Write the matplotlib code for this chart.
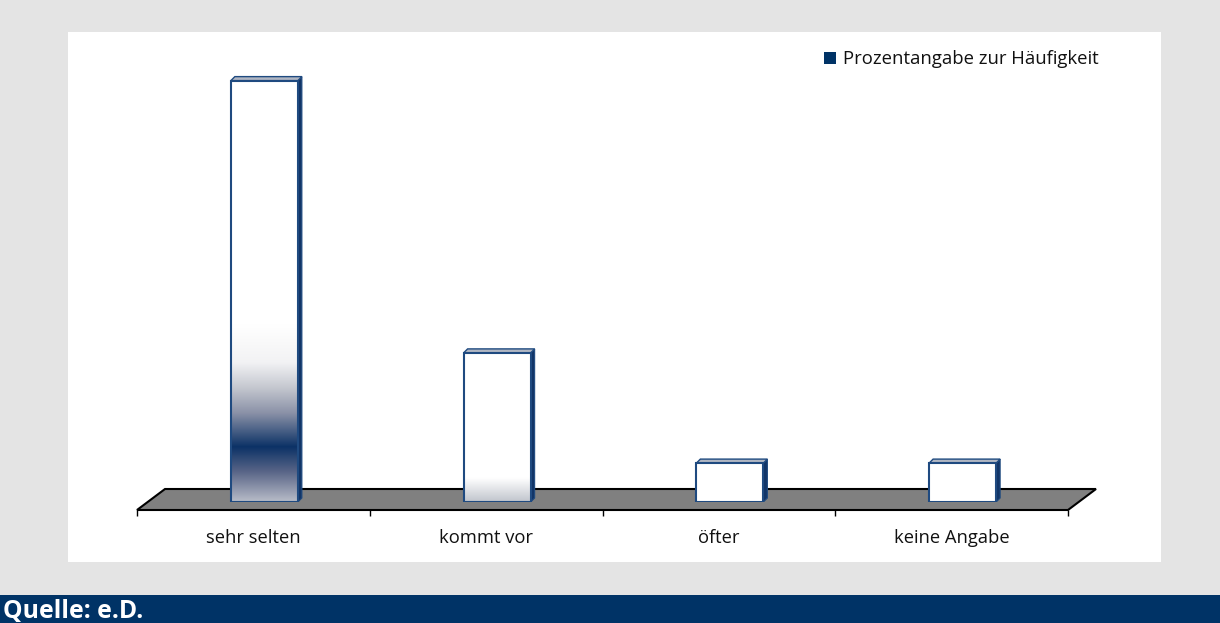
import numpy as np
import matplotlib
matplotlib.use("Agg")
import matplotlib.pyplot as plt
from matplotlib.patches import Rectangle, Polygon
from matplotlib.colors import to_rgb

plt.rcParams['font.family'] = ['Open Sans', 'DejaVu Sans']

# ---- data ----
categories = ["sehr selten", "kommt vor", "öfter", "keine Angabe"]
values = [65, 23, 6, 6]
series_name = "Prozentangabe zur Häufigkeit"
source_text = "Quelle: e.D."

# ---- styles ----
NAVY = "#003366"
EDGE = "#1f4a80"
TOP_FACE = "#b0b6c2"
SIDE_FACE = "#123567"
FLOOR = "#808080"
BG = "#e4e4e4"
# gradient stops per bar: (fraction of bar height from bottom, colour)
bar_gradients = [
    [(0.0, "#b8bcc8"), (0.07, "#5a6688"), (0.13, "#0c3266"), (0.21, "#8a91a7"),
     (0.27, "#c4c7cf"), (0.33, "#f2f2f4"), (0.42, "#ffffff"), (1.0, "#ffffff")],
    [(0.0, "#c0c4cc"), (0.16, "#ffffff"), (1.0, "#ffffff")],
    [(0.0, "#ffffff"), (1.0, "#ffffff")],
    [(0.0, "#ffffff"), (1.0, "#ffffff")],
]

W, H, DPI = 1220, 623, 100
fig = plt.figure(figsize=(W / DPI, H / DPI), dpi=DPI, facecolor=BG)

# white chart panel and footer band (behind the axes)
fig.patches.append(Rectangle((68 / W, (H - 562) / H), (1161 - 68) / W, (562 - 32) / H,
                             transform=fig.transFigure, facecolor="white",
                             edgecolor="none", zorder=-2))
fig.patches.append(Rectangle((0, 0), 1, (H - 595) / H, transform=fig.transFigure,
                             facecolor=NAVY, edgecolor="none", zorder=-2))
fig.text(3 / W, (H - 618) / H, source_text, color="white", fontweight="bold",
         fontsize=17.8, va="baseline", ha="left")

# plotting axes: value 0 sits on the floor, categories span the floor front edge
ax_left, ax_right = 137, 1068
ax_bottom, ax_top = 502, 32
YMAX = 72.5
ax = fig.add_axes([ax_left / W, (H - ax_bottom) / H,
                   (ax_right - ax_left) / W, (ax_bottom - ax_top) / H])
ax.patch.set_alpha(0)
n = len(categories)
ax.set_xlim(-0.5, n - 0.5)
ax.set_ylim(0, YMAX)

# pixel -> data conversion factors
sx = n / (ax_right - ax_left)
sy = YMAX / (ax_bottom - ax_top)

# floor (3-D base plate)
front_y, back_y = -8 * sy, 13 * sy
skew = 28 * sx
floor = Polygon([(-0.5, front_y), (n - 0.5, front_y),
                 (n - 0.5 + skew, back_y), (-0.5 + skew, back_y)],
                closed=True, facecolor=FLOOR, edgecolor="black", lw=1.5,
                clip_on=False, zorder=1)
ax.add_patch(floor)

# bars
bar_w = 0.288
shift = 11 * sx
ddx, ddy = 4 * sx, 4 * sy
x = np.arange(n) + shift
bars = ax.bar(x, values, width=bar_w, facecolor="none", edgecolor=EDGE,
              linewidth=1.5, zorder=4)
for rect, v, stops in zip(bars, values, bar_gradients):
    xl = rect.get_x()
    xr = xl + rect.get_width()
    # vertical gradient on the front face
    fr = np.linspace(0, 1, 400)
    pos = [s[0] for s in stops]
    cols = np.array([to_rgb(s[1]) for s in stops])
    img = np.stack([np.interp(fr, pos, cols[:, k]) for k in range(3)], axis=-1)
    img = img[::-1, None, :]
    im = ax.imshow(img, extent=(xl, xr, 0, v), aspect="auto", zorder=3,
                   interpolation="bilinear")
    im.set_clip_path(rect)
    # side face
    ax.add_patch(Polygon([(xr, 0), (xr + ddx, ddy), (xr + ddx, v + ddy), (xr, v)],
                         closed=True, facecolor=SIDE_FACE, edgecolor=EDGE,
                         lw=0.8, zorder=2.5))
    # top face
    ax.add_patch(Polygon([(xl, v), (xr, v), (xr + ddx, v + ddy), (xl + ddx, v + ddy)],
                         closed=True, facecolor=TOP_FACE, edgecolor=EDGE,
                         lw=1.0, zorder=2.5))
ax.set_xlim(-0.5, n - 0.5)
ax.set_ylim(0, YMAX)

# axis: boundary ticks below the floor, labels at category centres
for s in ax.spines.values():
    s.set_visible(False)
ax.spines["bottom"].set_position(("outward", 8 * 72 / DPI))
ax.set_xticks(np.arange(n + 1) - 0.5)
ax.set_xticklabels([])
ax.set_xticks(np.arange(n), minor=True)
ax.set_xticklabels(categories, minor=True, fontsize=13.2, color="#111111")
ax.tick_params(axis="x", which="major", length=6 * 72 / DPI, width=1,
               color="black", direction="out")
ax.tick_params(axis="x", which="minor", length=0, pad=13.5)
ax.set_yticks([])

# legend entry
fig.patches.append(Rectangle((824 / W, (H - 64) / H), 12 / W, 12 / H,
                             transform=fig.transFigure, facecolor=NAVY,
                             edgecolor="none", zorder=2))
fig.text(843 / W, (H - 59) / H, series_name, fontsize=13.3, va="center",
         ha="left", color="#111111")

fig.savefig("out.png", dpi=DPI, facecolor=BG)
